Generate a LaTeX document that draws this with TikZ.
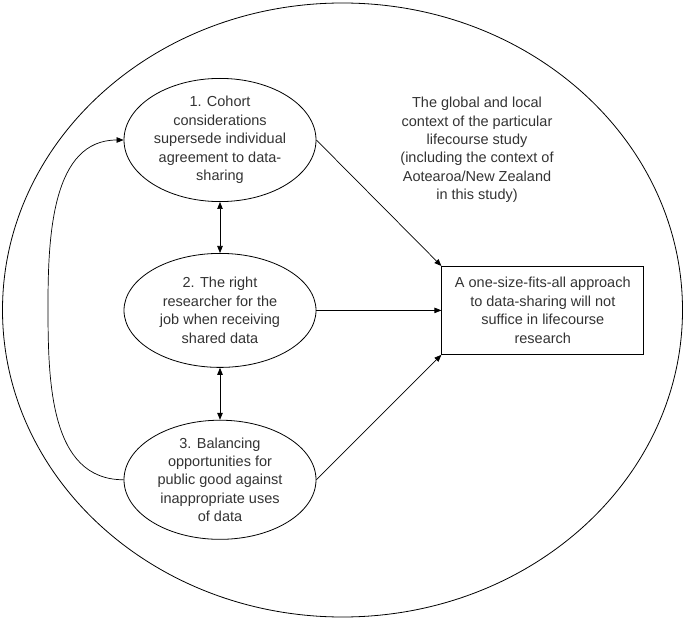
\documentclass[tikz,border=0pt]{standalone}
\usepackage{fontspec}
\setmainfont{Liberation Sans}
\usetikzlibrary{positioning, shapes.geometric, arrows.meta}

\begin{document}
\begin{tikzpicture}[x=1pt, y=-1pt,
        >={Triangle[length=7pt, width=5.5pt]},
        every node/.style={text=black!80, font=\fontsize{14.5}{18.4}\selectfont},
        theme/.style={ellipse, draw, line width=0.8pt, minimum width=192pt,
                      minimum height=114pt, inner sep=0pt, align=center},
        outcome/.style={rectangle, draw, line width=0.8pt, minimum width=202pt,
                        minimum height=88pt, inner sep=0pt, align=center},
        link/.style={->, line width=0.7pt},
    ]
    \useasboundingbox (0,0) rectangle (685,620);

    % outer ring: context of the study
    \draw[line width=0.8pt] (342.5,310) ellipse [x radius=340, y radius=307];
    \node[align=center] (context) at (477,150) {The global and local\\context of the particular\\lifecourse study\\(including the context of\\Aotearoa/New Zealand\\in this study)};

    % the three themes
    \node[theme] (cohort) at (220,140) {1. Cohort\\considerations\\supersede individual\\agreement to data-\\sharing};
    \node[theme, below=51pt of cohort] (researcher) {2. The right\\researcher for the\\job when receiving\\shared data};
    \node[theme, below=52pt of researcher] (balance) {3. Balancing\\opportunities for\\public good against\\inappropriate uses\\of data};

    % conclusion
    \node[outcome, right=125pt of researcher] (onesize) {A one-size-fits-all approach\\to data-sharing will not\\suffice in lifecourse\\research};

    % links between themes
    \draw[<->, line width=0.7pt] (cohort) -- (researcher);
    \draw[<->, line width=0.7pt] (researcher) -- (balance);
    \coordinate (loopleft) at (48,305);
    \draw[link] (balance.west) to[out=180, in=-90] (loopleft)
        to[out=90, in=180] (cohort.west);

    % themes -> conclusion
    \draw[link] (cohort.east) -- (onesize.north west);
    \draw[link] (researcher) -- (onesize);
    \draw[link] (balance.east) -- (onesize.south west);
\end{tikzpicture}
\end{document}
